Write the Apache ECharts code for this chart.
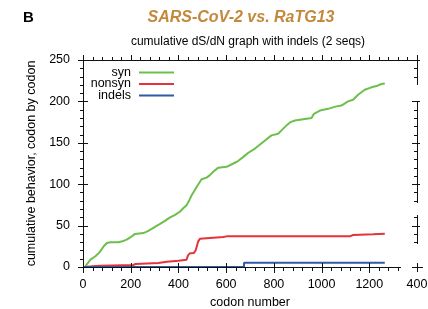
<!DOCTYPE html>
<html>
<head>
<meta charset="utf-8">
<script src="https://cdn.jsdelivr.net/npm/echarts@6/dist/echarts.min.js"></script>
<style>
  html, body { margin: 0; padding: 0; background: #fff; }
  #main { width: 428px; height: 309px; }
</style>
</head>
<body>
<div id="main"></div>
<script>
// values (codon number -> cumulative count)
var synCodon = [8, 31, 52, 70, 87, 100, 115, 149, 165, 183, 200, 218, 253, 270, 288, 305, 323, 345, 365, 386, 407, 420, 435, 446, 456, 467, 477, 497, 518, 532, 546, 567, 602, 630, 650, 672, 693, 721, 755, 790, 818, 832, 853, 870, 888, 923, 958, 968, 993, 1027, 1062, 1083, 1111, 1132, 1153, 1181, 1209, 1230, 1251, 1265];
var synCount = [0, 9, 13, 18, 25, 29, 30, 30, 31, 33, 36, 40, 41, 43, 46, 49, 52, 56, 60, 63, 67, 71, 75, 81, 87, 92, 97, 106, 108, 111, 115, 120, 121, 125, 128, 133, 138, 143, 151, 159, 161, 165, 171, 175, 177, 178.5, 180, 185, 189, 191, 194, 195, 200, 202, 208, 214, 217, 218.5, 221, 221.5];

var nonsynCodon = [10, 40, 72, 211, 220, 316, 351, 400, 434, 440, 448, 465, 472, 478, 483, 490, 497, 588, 602, 1118, 1132, 1216, 1265];
var nonsynCount = [0, 1, 1.6, 2.4, 3.6, 4.8, 6.4, 7.5, 8.8, 14, 16.5, 17, 20, 26, 31, 34, 35.4, 36.2, 37, 37, 38.6, 39.5, 40.2];

var indelCodon = [0, 675, 675, 1265];
var indelCount = [0, 0, 5, 5];

var xTickLabels = {0: '0', 200: '200', 400: '400', 600: '600', 800: '800', 1000: '1000', 1200: '1200', 1400: '400'};
var yTickLabels = {0: '0', 50: '50', 100: '100', 150: '150', 200: '200', 250: '250'};

// stretches of the right-hand frame that are drawn in the figure (in y units)
var rightFrameParts = [[221.5, 250], [78.5, 200], [29, 63]];

function pairs(xs, ys) {
  return xs.map(function (x, i) { return [x, ys[i]]; });
}

var FONT = 'Liberation Sans';
var chart = echarts.init(document.getElementById('main'), null, { renderer: 'canvas' });

function legendFor(name, top) {
  return {
    data: [name],
    orient: 'vertical',
    align: 'right',
    right: 254,
    top: top,
    padding: 0,
    icon: 'rect',
    itemWidth: 35,
    itemHeight: 2,
    selectedMode: false,
    textStyle: { fontFamily: FONT, fontSize: 12.5, color: '#000', padding: [0, 3, 0, 0] }
  };
}

var option = {
  animation: false,
  backgroundColor: '#fff',
  textStyle: { fontFamily: FONT },
  title: [
    { text: 'B', left: 23, top: 10, padding: 0,
      textStyle: { fontFamily: FONT, fontSize: 15, fontWeight: 'bold', color: '#000' } },
    { text: 'SARS-CoV-2 vs. RaTG13', left: 241, top: 10, padding: 0, textAlign: 'center',
      textStyle: { fontFamily: FONT, fontSize: 16, fontWeight: 'bold', fontStyle: 'italic', color: '#c4883c' } },
    { text: 'cumulative dS/dN graph with indels (2 seqs)', left: 248, top: 36, padding: 0, textAlign: 'center',
      textStyle: { fontFamily: FONT, fontSize: 12, fontWeight: 'normal', color: '#000' } }
  ],
  legend: [legendFor('syn', 66), legendFor('nonsyn', 77.5), legendFor('indels', 89)],
  grid: { left: 83, right: 11, top: 60, bottom: 42, outerBoundsMode: 'none' },
  xAxis: {
    type: 'value', min: 0, max: 1400, interval: 200,
    name: 'codon number', nameLocation: 'middle', nameGap: 29,
    nameTextStyle: { fontFamily: FONT, fontSize: 12.5, color: '#000' },
    axisLine: { show: false, onZero: false }, axisTick: { show: false },
    axisLabel: { show: true, margin: 11, fontFamily: FONT, fontSize: 12.5, color: '#000',
      formatter: function (v) { return xTickLabels[v]; } },
    splitLine: { show: false }
  },
  yAxis: {
    type: 'value', min: 0, max: 250, interval: 50,
    name: 'cumulative behavior, codon by codon', nameLocation: 'middle', nameGap: 44,
    nameTextStyle: { fontFamily: FONT, fontSize: 12.5, color: '#000' },
    axisLine: { show: false, onZero: false }, axisTick: { show: false },
    axisLabel: { show: true, margin: 13, fontFamily: FONT, fontSize: 12.5, color: '#000',
      formatter: function (v) { return yTickLabels[v]; } },
    splitLine: { show: false }
  },
  series: [
    { name: 'syn', type: 'line', data: pairs(synCodon, synCount), symbol: 'none',
      lineStyle: { color: '#6dbf4b', width: 2 }, itemStyle: { color: '#6dbf4b' }, z: 3 },
    { name: 'nonsyn', type: 'line', data: pairs(nonsynCodon, nonsynCount), symbol: 'none',
      lineStyle: { color: '#e5333b', width: 2 }, itemStyle: { color: '#e5333b' }, z: 3 },
    { name: 'indels', type: 'line', data: pairs(indelCodon, indelCount), symbol: 'none',
      lineStyle: { color: '#2f5aa8', width: 2 }, itemStyle: { color: '#2f5aa8' }, z: 3 }
  ]
};

chart.setOption(option);

// frame with ticks, placed through the chart's own scales
function P(x, y) { return chart.convertToPixel({ xAxisIndex: 0, yAxisIndex: 0 }, [x, y]); }
function X(v) { return Math.round(P(v, 0)[0]); }
function Y(v) { return Math.round(P(0, v)[1]); }
var L = X(0), R = X(1400), B = Y(0), T = Y(250);
var els = [];
// filled 1px rectangles instead of stroked lines
function hseg(x1, x2, y) {
  els.push({ type: 'rect', silent: true, z: 50,
    shape: { x: Math.min(x1, x2), y: y, width: Math.abs(x2 - x1) + 1, height: 1 },
    style: { fill: '#111' } });
}
function vseg(x, y1, y2) {
  els.push({ type: 'rect', silent: true, z: 50,
    shape: { x: x, y: Math.min(y1, y2), width: 1, height: Math.abs(y2 - y1) + 1 },
    style: { fill: '#111' } });
}
function onRight(v) {
  return rightFrameParts.some(function (p) { return v >= p[0] - 0.01 && v <= p[1] + 0.01; });
}

vseg(L, T, B);
hseg(L, R, T);
hseg(L, X(1330), B);
rightFrameParts.forEach(function (p) { vseg(R, Y(p[1]), Y(p[0])); });
vseg(R, B - 4, B + 4);
hseg(R - 5, R + 5, B);

var v;
for (v = 0; v <= 250; v += 10) {
  var major = v % 50 === 0;
  if (major) hseg(L - 5, L + 4, Y(v)); else hseg(L - 3, L, Y(v));
  if (v > 0 && onRight(v)) {
    if (major) hseg(R - 5, R + 2, Y(v)); else hseg(R - 3, R, Y(v));
  }
}
for (v = 0; v <= 1400; v += 40) {
  var majorX = v % 200 === 0;
  if (majorX) vseg(X(v), T - 5, T); else vseg(X(v), T - 3, T);
  if (v <= 1320) {
    if (majorX) vseg(X(v), B - 4, B + 5); else vseg(X(v), B, B + 3);
  }
}
chart.setOption({ graphic: { elements: els } });
</script>
</body>
</html>
